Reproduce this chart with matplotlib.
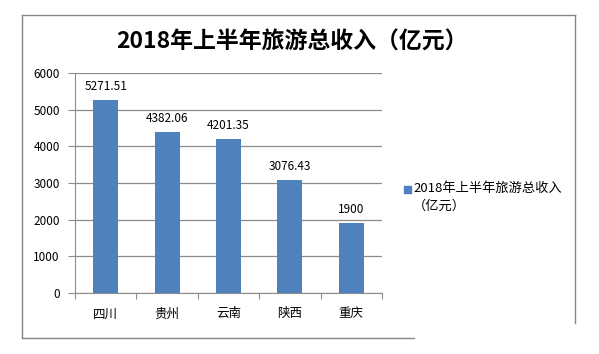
import matplotlib
matplotlib.use("Agg")
import matplotlib.pyplot as plt
from matplotlib.lines import Line2D

plt.rcParams['font.family'] = ['Noto Sans CJK SC', 'DejaVu Sans']

provinces = ["四川", "贵州", "云南", "陕西", "重庆"]
income = [5271.51, 4382.06, 4201.35, 3076.43, 1900]
value_labels = ["5271.51", "4382.06", "4201.35", "3076.43", "1900"]
yticks = [0, 1000, 2000, 3000, 4000, 5000, 6000]
title = "2018年上半年旅游总收入（亿元）"
legend_text = "2018年上半年旅游总收入\n（亿元）"

W, H = 599, 354
fig = plt.figure(figsize=(W / 100, H / 100), dpi=100)

# helpers: pixel position -> figure fraction
def fx(x): return x / W
def fy(y): return 1 - y / H

# outer chart frame
frame_col = "#868686"
for (x0, y0, x1, y1) in [(22, 15, 575, 15), (22, 15, 22, 338),
                         (22, 338, 414, 338), (575, 15, 575, 323)]:
    fig.add_artist(Line2D([fx(x0), fx(x1)], [fy(y0), fy(y1)],
                          color=frame_col, lw=1.0))

grid_col = "#8c8c8c"
ax = fig.add_axes([fx(75), fy(293), fx(382) - fx(75), fy(73) - fy(293)])
x = list(range(len(provinces)))
ax.bar(x, income, width=0.41, color="#4F81BD", zorder=3)
ax.set_xlim(-0.5, len(provinces) - 0.5)
ax.set_ylim(0, 6000)
ax.set_yticks(yticks)
ax.set_yticklabels([str(v) for v in yticks], fontsize=8.5)
ax.yaxis.grid(True, color=grid_col, lw=0.9, zorder=0)
ax.tick_params(axis="y", length=5, color=grid_col, pad=6)

# category labels between boundary ticks
ax.set_xticks([i - 0.5 for i in range(len(provinces) + 1)])
ax.set_xticklabels([])
ax.tick_params(axis="x", length=4, color=grid_col)
for i, name in enumerate(provinces):
    ax.text(i, -0.095, name, transform=ax.get_xaxis_transform(),
            ha="center", va="center", fontsize=9)

for i, (v, lab) in enumerate(zip(income, value_labels)):
    ax.annotate(lab, (i, v), xytext=(0, 5), textcoords="offset points",
                ha="center", va="bottom", fontsize=8.5)

for s in ["top", "right"]:
    ax.spines[s].set_visible(False)
for s in ["left", "bottom"]:
    ax.spines[s].set_color(grid_col)

fig.text(fx(292), fy(42), title, ha="center", va="center",
         fontsize=16.5, fontweight="bold")

# legend
fig.add_artist(plt.Rectangle((fx(404), fy(193)), 7 / W, 7 / H,
                             color="#4F81BD", transform=fig.transFigure))
fig.text(fx(413), fy(182), legend_text, ha="left", va="top",
         fontsize=9.5, linespacing=1.45)

fig.savefig("out.png", dpi=100)
